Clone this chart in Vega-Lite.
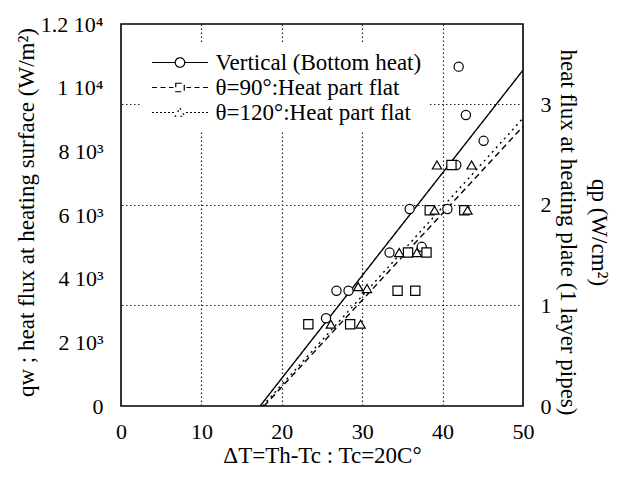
{
  "$schema": "https://vega.github.io/schema/vega-lite/v6.json",
  "width": 402,
  "height": 382,
  "autosize": {"type": "none"},
  "padding": {"left": 121, "top": 24, "right": 105, "bottom": 75},
  "background": "white",
  "config": {
    "view": {"stroke": "black", "strokeWidth": 1.6},
    "font": "Liberation Serif",
    "axis": {
      "labelFont": "Liberation Serif",
      "titleFont": "Liberation Serif",
      "labelColor": "black",
      "titleColor": "black",
      "titleFontWeight": "normal",
      "labelFontSize": 22,
      "titleFontSize": 23,
      "domain": false,
      "tickColor": "black",
      "tickWidth": 1.2,
      "tickSize": 0,
      "gridColor": "#222222",
      "gridDash": [1.5, 2.5],
      "gridWidth": 1.2,
      "labelOverlap": false,
      "labelFlush": false
    }
  },
  "datasets": {
    "lines": [
      {"series": "Vertical (Bottom heat)", "dT": 17.3, "qw": 0},
      {"series": "Vertical (Bottom heat)", "dT": 50, "qw": 10550},
      {"series": "θ=90°:Heat part flat", "dT": 17.8, "qw": 0},
      {"series": "θ=90°:Heat part flat", "dT": 50, "qw": 8780},
      {"series": "θ=120°:Heat part flat", "dT": 17.6, "qw": 0},
      {"series": "θ=120°:Heat part flat", "dT": 50, "qw": 9040}
    ],
    "points": [
      {"series": "Vertical (Bottom heat)", "dT": 25.5, "qw": 2755},
      {"series": "Vertical (Bottom heat)", "dT": 26.8, "qw": 3620},
      {"series": "Vertical (Bottom heat)", "dT": 28.3, "qw": 3620},
      {"series": "Vertical (Bottom heat)", "dT": 33.4, "qw": 4820},
      {"series": "Vertical (Bottom heat)", "dT": 37.4, "qw": 5000},
      {"series": "Vertical (Bottom heat)", "dT": 35.9, "qw": 6190},
      {"series": "Vertical (Bottom heat)", "dT": 40.6, "qw": 6190},
      {"series": "Vertical (Bottom heat)", "dT": 41.7, "qw": 7570},
      {"series": "Vertical (Bottom heat)", "dT": 42.0, "qw": 10660},
      {"series": "Vertical (Bottom heat)", "dT": 42.9, "qw": 9140},
      {"series": "Vertical (Bottom heat)", "dT": 45.1, "qw": 8330},
      {"series": "θ=90°:Heat part flat", "dT": 23.3, "qw": 2570},
      {"series": "θ=90°:Heat part flat", "dT": 28.5, "qw": 2570},
      {"series": "θ=90°:Heat part flat", "dT": 34.4, "qw": 3620},
      {"series": "θ=90°:Heat part flat", "dT": 36.6, "qw": 3620},
      {"series": "θ=90°:Heat part flat", "dT": 35.7, "qw": 4820},
      {"series": "θ=90°:Heat part flat", "dT": 38.0, "qw": 4820},
      {"series": "θ=90°:Heat part flat", "dT": 38.4, "qw": 6150},
      {"series": "θ=90°:Heat part flat", "dT": 42.7, "qw": 6150},
      {"series": "θ=90°:Heat part flat", "dT": 41.1, "qw": 7570},
      {"series": "θ=120°:Heat part flat", "dT": 26.1, "qw": 2570},
      {"series": "θ=120°:Heat part flat", "dT": 29.8, "qw": 2570},
      {"series": "θ=120°:Heat part flat", "dT": 29.5, "qw": 3750},
      {"series": "θ=120°:Heat part flat", "dT": 30.6, "qw": 3690},
      {"series": "θ=120°:Heat part flat", "dT": 34.6, "qw": 4820},
      {"series": "θ=120°:Heat part flat", "dT": 36.8, "qw": 4820},
      {"series": "θ=120°:Heat part flat", "dT": 39.0, "qw": 6150},
      {"series": "θ=120°:Heat part flat", "dT": 43.1, "qw": 6150},
      {"series": "θ=120°:Heat part flat", "dT": 39.3, "qw": 7570},
      {"series": "θ=120°:Heat part flat", "dT": 43.6, "qw": 7570}
    ],
    "qpAxis": [{"qp": 0}, {"qp": 3.8}]
  },
  "layer": [
    {
      "data": {"name": "lines"},
      "mark": {"type": "line", "color": "black", "strokeWidth": 1.4},
      "encoding": {
        "x": {
          "field": "dT", "type": "quantitative",
          "scale": {"domain": [0, 50], "nice": false, "zero": false},
          "axis": {
            "orient": "bottom",
            "values": [0,2,4,6,8,10,12,14,16,18,20,22,24,26,28,30,32,34,36,38,40,42,44,46,48,50],
            "labelExpr": "datum.value % 10 === 0 ? datum.label : ''",
            "labelPadding": 15,
            "grid": true,
            "gridOpacity": {"condition": {"test": "datum.value % 10 === 0 && datum.value > 0 && datum.value < 50", "value": 1}, "value": 0},
            "title": "ΔT=Th-Tc : Tc=20C°",
            "titleY": 38,
            "encode": {
              "ticks": {"update": {"y2": {"signal": "datum.value % 10 === 0 ? -12 : -7"}}}
            }
          }
        },
        "y": {
          "field": "qw", "type": "quantitative",
          "scale": {"domain": [0, 12000], "nice": false},
          "axis": {
            "orient": "left",
            "values": [0,500,1000,1500,2000,2500,3000,3500,4000,4500,5000,5500,6000,6500,7000,7500,8000,8500,9000,9500,10000,10500,11000,11500,12000],
            "labelExpr": "datum.value === 0 ? '0' : datum.value === 10000 ? '1 10⁴' : datum.value === 12000 ? '1.2 10⁴' : datum.value % 2000 === 0 ? (datum.value / 1000) + ' 10³' : ''",
            "labelPadding": 18,
            "grid": false,
            "title": "qw ; heat flux at heating surface (W/m²)",
            "titleX": -83,
            "titleY": 188,
            "encode": {
              "ticks": {"update": {"x2": {"signal": "datum.value % 2000 === 0 ? 12 : 7"}}}
            }
          }
        },
        "strokeDash": {
          "field": "series", "type": "nominal",
          "sort": ["Vertical (Bottom heat)", "θ=90°:Heat part flat", "θ=120°:Heat part flat"],
          "scale": {"range": [[1, 0], [6, 4], [2, 4]]},
          "legend": {
            "title": null,
            "orient": "none",
            "legendX": 20,
            "legendY": 20,
            "padding": 7,
            "fillColor": "white",
            "labelFont": "Liberation Serif",
            "labelFontSize": 23,
            "labelColor": "black",
            "labelLimit": 400,
            "labelOffset": 24,
            "symbolOffset": 20.5,
            "symbolSize": 100,
            "symbolStrokeWidth": 1.2,
            "symbolStrokeColor": "black",
            "clipHeight": 23,
            "rowPadding": 1,
            "encode": {
              "symbols": {
                "update": {
                  "shape": {"signal": "datum.value === 'Vertical (Bottom heat)' ? 'M-5.6,0L-0.95,0M0.95,0L5.6,0M0.95,0A0.95,0.95,0,1,1,-0.95,0A0.95,0.95,0,1,1,0.95,0' : datum.value === 'θ=90°:Heat part flat' ? 'M-5.6,0L-4.6,0M-3.9,0L-2.9,0M-2.2,0L-1.3,0M1.3,0L2.2,0M2.9,0L3.9,0M4.6,0L5.6,0M-0.85,-0.85L0.85,-0.85L0.85,0.85L-0.85,0.85Z' : 'M-5.6,0L-5.2,0M-4.8,0L-4.4,0M-4,0L-3.6,0M-3.2,0L-2.8,0M-2.4,0L-2,0M-1.6,0L-1.2,0M1.2,0L1.6,0M2,0L2.4,0M2.8,0L3.2,0M3.6,0L4,0M4.4,0L4.8,0M5.2,0L5.6,0M0,-0.9L0.95,0.75L-0.95,0.75Z'"},
                  "size": {"value": 100},
                  "strokeDash": {"value": [1, 0]},
                  "fill": {"value": "white"},
                  "stroke": {"value": "black"},
                  "strokeWidth": {"value": 1.2}
                }
              }
            }
          }
        }
      }
    },
    {
      "data": {"name": "points"},
      "mark": {"type": "point", "filled": false, "fill": "white", "stroke": "black", "strokeWidth": 1.2, "size": 85, "opacity": 1},
      "encoding": {
        "x": {
          "field": "dT", "type": "quantitative",
          "scale": {"domain": [0, 50], "nice": false, "zero": false},
          "axis": {
            "orient": "top",
            "values": [0,2,4,6,8,10,12,14,16,18,20,22,24,26,28,30,32,34,36,38,40,42,44,46,48,50],
            "labels": false,
            "grid": false,
            "title": null,
            "encode": {
              "ticks": {"update": {"y2": {"signal": "datum.value % 10 === 0 ? 12 : 7"}}}
            }
          }
        },
        "y": {
          "field": "qw", "type": "quantitative",
          "scale": {"domain": [0, 12000], "nice": false},
          "axis": null
        },
        "shape": {
          "field": "series", "type": "nominal",
          "scale": {"domain": ["Vertical (Bottom heat)", "θ=90°:Heat part flat", "θ=120°:Heat part flat"], "range": ["circle", "square", "triangle-up"]},
          "legend": null
        }
      }
    },
    {
      "data": {"name": "qpAxis"},
      "mark": {"type": "point", "opacity": 0},
      "encoding": {
        "y": {
          "field": "qp", "type": "quantitative",
          "scale": {"domain": [0, 3.8], "nice": false},
          "axis": {
            "orient": "right",
            "values": [0,0.1,0.2,0.3,0.4,0.5,0.6,0.7,0.8,0.9,1,1.1,1.2,1.3,1.4,1.5,1.6,1.7,1.8,1.9,2,2.1,2.2,2.3,2.4,2.5,2.6,2.7,2.8,2.9,3,3.1,3.2,3.3,3.4,3.5,3.6,3.7,3.8],
            "labelExpr": "abs(datum.value - round(datum.value)) < 0.001 ? '' + round(datum.value) : ''",
            "labelPadding": 17,
            "grid": true,
            "gridOpacity": {"condition": {"test": "abs(datum.value - round(datum.value)) < 0.001 && datum.value > 0", "value": 1}, "value": 0},
            "title": ["qp (W/cm²)", "heat flux at heating plate (1 layer pipes)"],
            "titleX": 63,
            "titleY": 208,
            "titleLineHeight": 31,
            "encode": {
              "ticks": {"update": {"x2": {"signal": "abs(datum.value - round(datum.value)) < 0.001 ? -12 : -7"}}}
            }
          }
        }
      }
    }
  ],
  "resolve": {"scale": {"y": "independent"}, "axis": {"x": "independent", "y": "independent"}}
}
